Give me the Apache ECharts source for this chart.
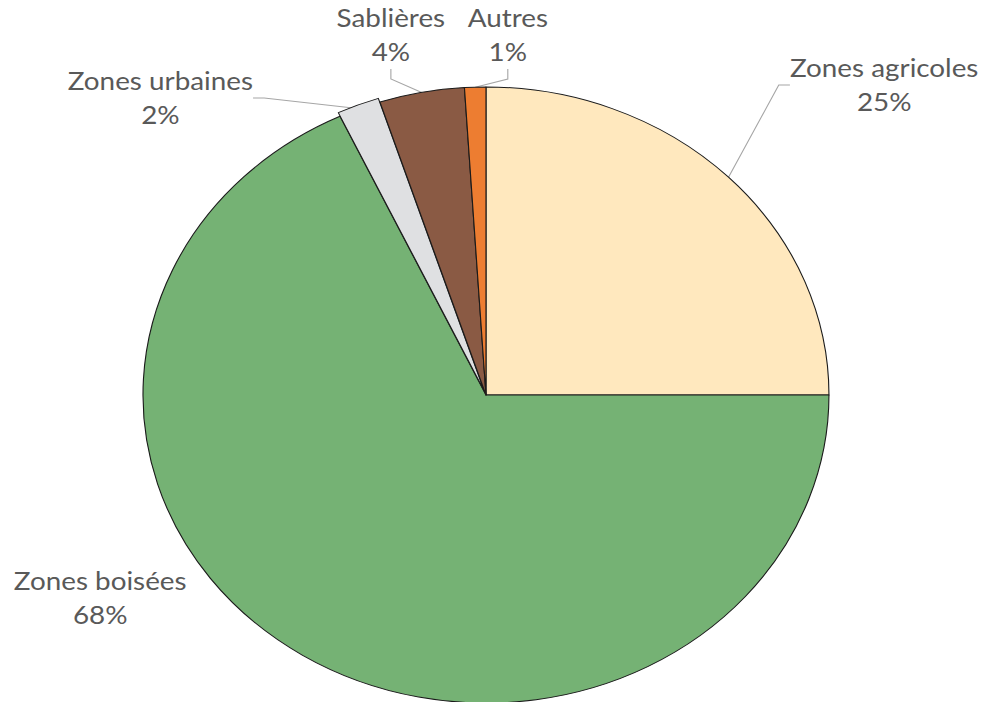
<!DOCTYPE html>
<html>
<head>
<meta charset="utf-8">
<script src="https://cdn.jsdelivr.net/npm/echarts@6/dist/echarts.min.js"></script>
<style>
  html, body { margin: 0; padding: 0; background: #fff; overflow: hidden; }
  /* le graphique d'origine est étiré horizontalement (ellipse) */
  #main { width: 892px; height: 702px; transform: scaleX(1.1136); transform-origin: 0 0; }
</style>
</head>
<body>
<div id="main"></div>
<script>
// données
var categories = ['Zones agricoles', 'Zones boisées', 'Zones urbaines', 'Sablières', 'Autres'];
var values = [25, 68, 2, 4, 1];
var colors = ['#FFE8BE', '#75B274', '#DFE0E2', '#8A5A44', '#ED7D31'];

// position des étiquettes (centre du bloc de texte)
var labelPos = [
    [794, 85],
    [90, 598],
    [144, 98],
    [351, 35],
    [456, 35]
];

var chart = echarts.init(document.getElementById('main'), null, { renderer: 'svg' });

// secteurs (zones urbaines détachée)
var pieData = [];
// copie transparente pour les étiquettes
var labelData = [];
for (var i = 0; i < categories.length; i++) {
    var item = {
        name: categories[i],
        value: values[i],
        itemStyle: { color: colors[i] }
    };
    if (i == 2) item.selected = true;
    pieData.push(item);

    var lab = { name: categories[i], value: values[i] };
    if (i == 1) lab.labelLine = { show: false };
    labelData.push(lab);
}

var option = {
    animation: false,
    series: [{
        type: 'pie',
        center: [436.4, 395],
        radius: 308,
        startAngle: 90,
        clockwise: true,
        selectedMode: 'single',
        selectedOffset: 4,
        itemStyle: {
            borderColor: '#1a1a1a',
            borderWidth: 1
        },
        label: { show: false },
        labelLine: { show: false },
        emphasis: { disabled: true },
        silent: true,
        data: pieData
    }, {
        type: 'pie',
        center: [436.4, 395],
        radius: 308,
        startAngle: 90,
        clockwise: true,
        avoidLabelOverlap: false,
        silent: true,
        itemStyle: {
            color: 'rgba(0,0,0,0)',
            borderWidth: 0
        },
        label: {
            show: true,
            formatter: function (p) {
                return p.name + '\n' + Math.round(p.percent) + '%';
            },
            fontFamily: 'Lato',
            fontSize: 25,
            lineHeight: 34,
            color: '#595959',
            align: 'center',
            overflow: 'none'
        },
        labelLine: {
            show: true,
            length: 40,
            length2: 10,
            lineStyle: { color: '#A6A6A6', width: 1 }
        },
        labelLayout: function (params) {
            var p = labelPos[params.dataIndex];
            return {
                x: p[0],
                y: p[1],
                align: 'center',
                verticalAlign: 'middle'
            };
        },
        emphasis: { disabled: true },
        data: labelData
    }]
};
chart.setOption(option);
</script>
</body>
</html>
